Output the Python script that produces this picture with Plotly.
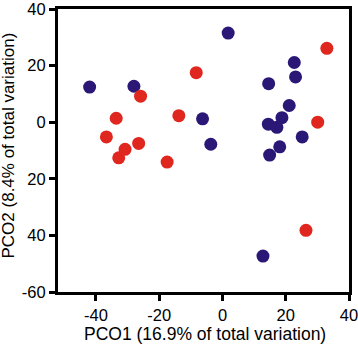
import plotly.graph_objects as go

blue_x = [1.8, -42.0, -28.0, 14.6, 22.7, 23.1, 21.1, 18.8, 14.5, 17.2, 25.2, -6.3, -3.7, 18.1, 14.9, 12.8]
blue_y = [31.5, 12.4, 12.7, 13.6, 21.1, 16.0, 5.9, 1.6, -0.7, -1.8, -5.2, 1.2, -7.8, -8.7, -11.6, -47.3]
red_x = [33.0, -8.3, -25.9, -33.6, -13.8, 30.1, -36.7, -26.5, -30.8, -32.8, -17.5, 26.4]
red_y = [26.1, 17.5, 9.2, 1.4, 2.3, 0.0, -5.2, -7.5, -9.6, -12.6, -14.1, -38.2]

x_ticks = [-40, -20, 0, 20, 40]
x_ticktext = ["-40", "-20", "0", "20", "40"]
y_ticks = [40, 20, 0, -20, -40, -60]
y_ticktext = ["40", "20", "0", "20", "40", "-60"]

BLUE = "#2b1876"
RED = "#e0271f"
FONT = "Liberation Sans, Arial, sans-serif"

fig = go.Figure()
fig.add_trace(go.Scatter(x=blue_x, y=blue_y, mode="markers",
                         marker=dict(size=13, color=BLUE, line=dict(width=0)), showlegend=False))
fig.add_trace(go.Scatter(x=red_x, y=red_y, mode="markers",
                         marker=dict(size=13, color=RED, line=dict(width=0)), showlegend=False))

axis_common = dict(showgrid=False, zeroline=False, showline=True, linecolor="black", linewidth=3,
                   mirror=True, ticks="outside", ticklen=6, tickwidth=3, tickcolor="black",
                   automargin=False, ticklabeloverflow="allow",
                   tickfont=dict(family=FONT, size=16.5, color="black"))

fig.update_layout(
    width=358, height=350,
    margin=dict(l=58, r=9, t=9, b=58, pad=0),
    plot_bgcolor="white", paper_bgcolor="white",
    font=dict(family=FONT, color="black"),
    xaxis=dict(range=[-52, 40], tickvals=x_ticks, ticktext=x_ticktext, **axis_common),
    yaxis=dict(range=[-60, 40], tickvals=y_ticks, ticktext=y_ticktext, **axis_common),
    annotations=[
        dict(text="PCO2 (8.4% of total variation)", xref="paper", yref="paper",
             x=-0.170, y=0.516, xanchor="center", yanchor="middle", textangle=-90,
             showarrow=False, font=dict(family=FONT, size=17, color="black")),
        dict(text="PCO1 (16.9% of total variation)", xref="paper", yref="paper",
             x=0.505, y=-0.150, xanchor="center", yanchor="middle",
             showarrow=False, font=dict(family=FONT, size=17.5, color="black")),
    ],
)

fig.write_html("out.html", config={"displayModeBar": False},
               post_script="document.body.style.margin='0';document.body.style.overflow='hidden';")
